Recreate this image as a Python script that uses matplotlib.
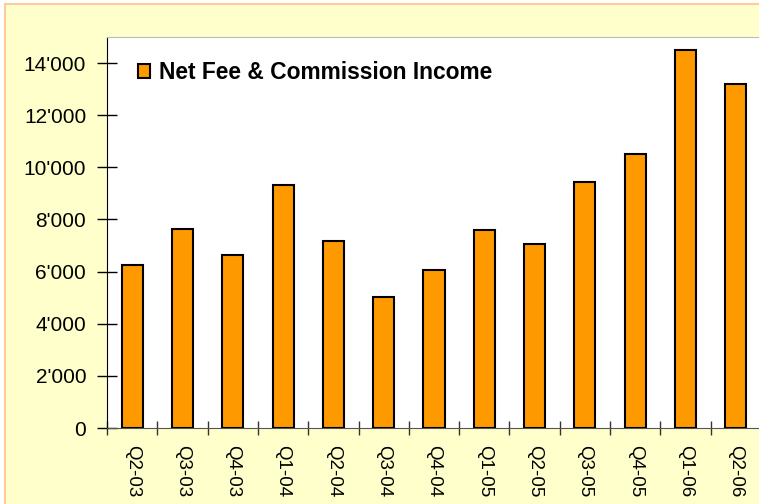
import matplotlib
matplotlib.use("Agg")
import matplotlib.pyplot as plt
from matplotlib.patches import Rectangle
from matplotlib.ticker import FuncFormatter, MultipleLocator

categories = ["Q2-03", "Q3-03", "Q4-03", "Q1-04", "Q2-04", "Q3-04", "Q4-04",
              "Q1-05", "Q2-05", "Q3-05", "Q4-05", "Q1-06", "Q2-06"]
net_fee_income = [6250, 7640, 6650, 9320, 7180, 5040, 6060,
                  7580, 7060, 9450, 10520, 14520, 13180]
series_label = "Net Fee & Commission Income"

plt.rcParams['font.family'] = ['Liberation Sans', 'DejaVu Sans']

W, H = 759, 504
fig = plt.figure(figsize=(W / 100, H / 100), dpi=100, facecolor='white')
fig.patches.append(Rectangle((5 / W, -0.01), 1.0, 1 - 4 / H + 0.01, transform=fig.transFigure,
                             facecolor='#FFFFCC', edgecolor='#FFCC99', linewidth=1.5, zorder=-10))

ax = fig.add_axes([107 / W, 1 - 428 / H, (761 - 107) / W, (428 - 37) / H])
ax.set_facecolor('white')
x = list(range(len(categories)))
bars = ax.bar(x, net_fee_income, width=0.42, color='#FF9900', edgecolor='black',
              linewidth=1.5, label=series_label, zorder=3)

ax.set_xlim(-0.5, len(categories) - 0.5)
ax.set_ylim(0, 15000)
ax.yaxis.set_major_locator(MultipleLocator(2000))
ax.yaxis.set_major_formatter(FuncFormatter(lambda v, p: f"{int(v):,}".replace(",", "'")))
ax.set_xticks(x)
ax.set_xticklabels(categories, rotation=-90, fontsize=13.5)
ax.tick_params(axis='x', which='major', length=0, pad=12)
ax.set_xticks([i - 0.5 for i in range(len(categories) + 1)], minor=True)
ax.tick_params(axis='x', which='minor', length=10, direction='inout', width=1, color='#333333')
ax.tick_params(axis='y', labelsize=15, length=14, direction='inout', width=1, pad=8)

ax.spines['right'].set_visible(False)
ax.spines['top'].set_color('#BBBBBB')
ax.spines['bottom'].set_color('#555555')
ax.spines['left'].set_color('black')

leg = ax.legend(loc='upper left', bbox_to_anchor=(0.033, 0.962), frameon=False,
                prop={'weight': 'bold', 'size': 16.4}, handlelength=0.55, handleheight=0.55,
                handletextpad=0.4, borderaxespad=0)

fig.savefig("out.png", dpi=100, facecolor=fig.get_facecolor())
